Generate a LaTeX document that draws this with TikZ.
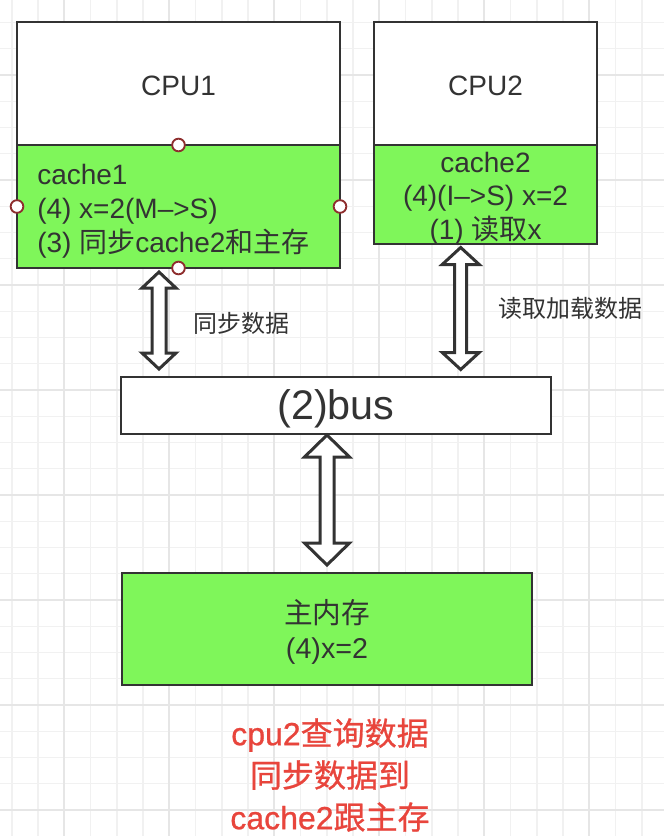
\documentclass[tikz,border=0pt]{standalone}
\usepackage{fontspec}
\setmainfont{Liberation Sans}
\newfontfamily\cjk{Noto Sans CJK SC}
\newfontfamily\latm{Liberation Sans}[FakeBold=0.8]
\newfontfamily\cjkm{Noto Sans CJK SC}[FakeBold=0.8]
\usetikzlibrary{calc}
\definecolor{grn}{HTML}{7FF65A}
\definecolor{ink}{HTML}{333333}
\definecolor{redtxt}{HTML}{E8453C}
\definecolor{hdlc}{HTML}{8E2E2E}
\definecolor{gminor}{HTML}{F1F1F1}
\definecolor{gmajor}{HTML}{E6E6E6}
% #1 top tip, #2 bottom tip, #3 head half width, #4 head length, #5 shaft half width
\newcommand\dblarr[5]{%
  \draw[dblarrow] (#1) -- ++(#3,#4) -- ++({#5-#3},0) -- ($(#2)+(#5,-#4)$) -- ++({#3-#5},0)
    -- (#2) -- ++(-#3,-#4) -- ++({#3-#5},0) -- ($(#1)+(-#5,#4)$) -- ++({#5-#3},0) -- cycle;}
\begin{document}
\begin{tikzpicture}[x=0.75pt,y=-0.75pt,
  box/.style={draw=ink, line width=2pt, outer sep=0pt, inner sep=0pt},
  txt/.style={text=ink, inner sep=0pt, font=\fontsize{21pt}{25.5pt}\selectfont},
  dblarrow/.style={draw=ink, fill=white, line width=2.25pt, line join=miter},
  hdl/.style={circle, draw=hdlc, fill=white, line width=1.4pt, minimum size=9.5pt, inner sep=0pt},
  lbl/.style={text=ink, inner sep=0pt, font=\fontsize{18pt}{22pt}\selectfont},
  gmin/.style={draw=gminor, line width=1.1pt},
  gmaj/.style={draw=gmajor, line width=1.4pt}]
\useasboundingbox (0,0) rectangle (664,836);
\fill[white] (0,0) rectangle (664,836);
% grid
\begin{scope}
\clip (0,0) rectangle (664,836);
\foreach \i in {0,...,25} \draw[gmin] ({11.8+26.25*\i},0) -- ({11.8+26.25*\i},836);
\foreach \j in {0,...,31} \draw[gmin] (0,{22.5+26.25*\j}) -- (664,{22.5+26.25*\j});
\foreach \i in {0,...,5} \draw[gmaj] ({64.3+105*\i},0) -- ({64.3+105*\i},836);
\foreach \j in {0,...,7} \draw[gmaj] (0,{75+105*\j}) -- (664,{75+105*\j});
\end{scope}
% boxes
\node[box, fill=white, minimum width=242.25pt, minimum height=92.25pt] (cpu1) at (178.5,83.5) {};
\node[box, fill=grn, minimum width=242.25pt, minimum height=92.25pt] (cache1) at (178.5,206.5) {};
\node[box, fill=white, minimum width=167.25pt, minimum height=92.25pt] (cpu2) at (485.5,83.5) {};
\node[box, fill=grn, minimum width=167.25pt, minimum height=74.25pt] (cache2) at (485.5,194.5) {};
\node[box, fill=white, minimum width=322.5pt, minimum height=42.75pt] (bus) at (336,405.5) {};
\node[box, fill=grn, minimum width=307.5pt, minimum height=84pt] (mem) at (327,629) {};
% box texts
\node[txt] (cpu1t) at ($(cpu1.center)+(0,2)$) {CPU1};
\node[txt] (cpu2t) at ($(cpu2.center)+(0,2)$) {CPU2};
\node[txt, align=left, anchor=west] (cache1t) at ($(cache1.west)+(20,5)$)
  {cache1\\(4) x=2(M–>S)\\(3) {\cjk 同步}cache2{\cjk 和主存}};
\node[txt, align=center, font=\fontsize{21pt}{25pt}\selectfont] (cache2t) at ($(cache2.center)+(0,4)$)
  {cache2\\(4)(I–>S) x=2\\(1) {\cjk 读取}x};
\node[txt, font=\fontsize{31pt}{34pt}\selectfont] (bust) at ($(bus.center)+(0,3)$) {(2)bus};
\node[txt, align=center, font=\fontsize{21.5pt}{26.25pt}\selectfont] (memt) at ($(mem.center)+(0,3)$)
  {{\cjk 主内存}\\(4)x=2};
% connectors
\path (cache1.south -| 159,0) ++(0,4) coordinate (a1t);
\path (bus.north -| 159,0) ++(0,-8) coordinate (a1b);
\path (cache2.south -| 460.7,0) ++(0,3.5) coordinate (a2t);
\path (bus.north -| 460.7,0) ++(0,-7.5) coordinate (a2b);
\path (bus.south -| 327,0) ++(0,1) coordinate (a3t);
\path (mem.north -| 327,0) ++(0,-8) coordinate (a3b);
\dblarr{a1t}{a1b}{17}{16}{7}
\dblarr{a2t}{a2b}{18.5}{17}{6}
\dblarr{a3t}{a3b}{22.5}{22}{7}
% handles
\node[hdl] (h1) at (cache1.north) {};
\node[hdl] (h2) at (cache1.west) {};
\node[hdl] (h3) at (cache1.east) {};
\node[hdl] (h4) at (cache1.south) {};
% labels
\node[lbl] (l1) at (241,323) {\cjk 同步数据};
\node[lbl] (l2) at (570,308.3) {\cjk 读取加载数据};
\node[text=redtxt, inner sep=0pt, align=center, font=\fontsize{24pt}{31.5pt}\selectfont]
  (note) at (330,775) {{\latm cpu2}{\cjkm 查询数据}\\{\cjkm 同步数据到}\\{\latm cache2}{\cjkm 跟主存}};
\end{tikzpicture}
\end{document}
